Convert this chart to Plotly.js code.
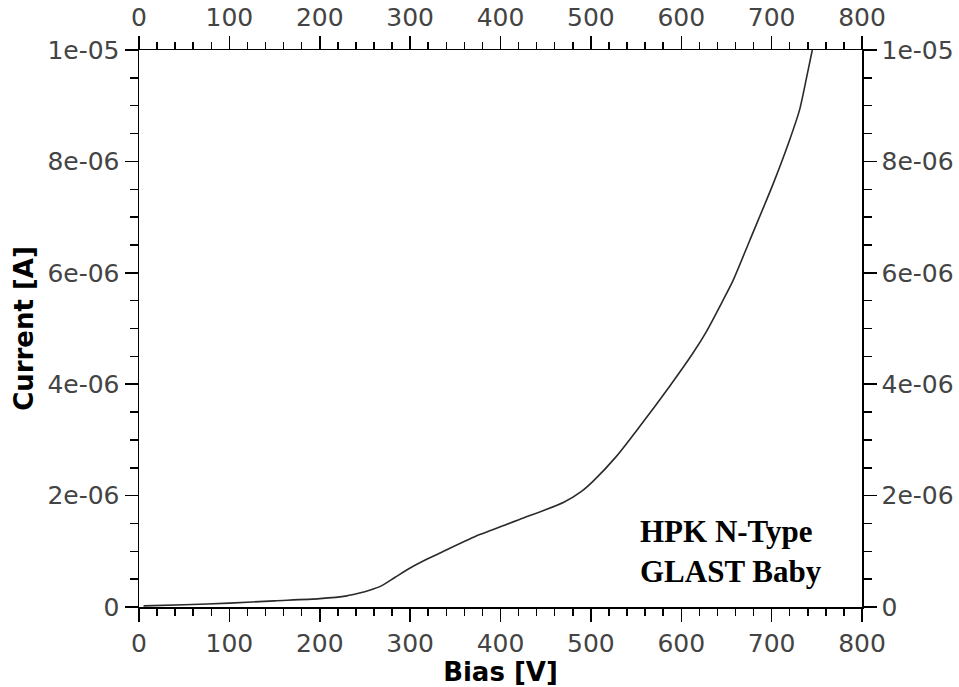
<!DOCTYPE html>
<html>
<head>
<meta charset="utf-8">
<script src="https://cdn.plot.ly/plotly-3.0.1.min.js"></script>
<style>html,body{margin:0;padding:0;background:#fff;}#chart{width:959px;height:687px;}</style>
</head>
<body>
<div id="chart"></div>
<script>
// Bias voltage [V]
const bias = [5, 50, 100, 150, 200, 230, 244, 255, 267, 283, 300, 320, 337, 377, 421, 470, 490, 502, 528, 554, 587, 613, 628, 646, 657, 676, 702, 720, 731, 739, 745];
// Leakage current [A]
const current = [0.02e-6, 0.04e-6, 0.07e-6, 0.11e-6, 0.15e-6, 0.20e-6, 0.25e-6, 0.30e-6, 0.37e-6, 0.53e-6, 0.70e-6, 0.87e-6, 1.00e-6, 1.30e-6, 1.57e-6, 1.88e-6, 2.08e-6, 2.25e-6, 2.70e-6, 3.24e-6, 3.96e-6, 4.56e-6, 4.95e-6, 5.50e-6, 5.85e-6, 6.59e-6, 7.61e-6, 8.39e-6, 8.93e-6, 9.53e-6, 10.0e-6];

const xTickVals = [0, 100, 200, 300, 400, 500, 600, 700, 800];
const yTickVals = [0, 2e-6, 4e-6, 6e-6, 8e-6, 1e-5];
const yTickText = ["0", "2e-06", "4e-06", "6e-06", "8e-06", "1e-05"];
const xTitle = "Bias [V]";
const yTitle = "Current [A]";
const label = "HPK N-Type<br>GLAST Baby";

const tickFont = {family: "DejaVu Sans", size: 25, color: "#444"};
const titleFont = {family: "DejaVu Sans", size: 26, color: "#000", weight: "bold"};

const common = {
  showline: true, linecolor: "#000", linewidth: 1.5,
  ticks: "outside", ticklen: 13, tickwidth: 1.5, tickcolor: "#000",
  showgrid: false, zeroline: false, tickfont: tickFont
};

const xBase = Object.assign({}, common, {
  range: [0, 800], tickmode: "array", tickvals: xTickVals,
  minor: {dtick: 20, ticks: "outside", ticklen: 7, tickwidth: 1.5, tickcolor: "#000", showgrid: false}
});
const yBase = Object.assign({}, common, {
  range: [0, 1e-5], tickmode: "array", tickvals: yTickVals, ticktext: yTickText,
  minor: {dtick: 0.5e-6, ticks: "outside", ticklen: 8, tickwidth: 1.5, tickcolor: "#000", showgrid: false}
});

const data = [
  {x: bias, y: current, type: "scatter", mode: "lines", line: {color: "#2a2a2a", width: 1.6, shape: "spline", smoothing: 0.7}, hoverinfo: "skip", showlegend: false},
  {x: bias, y: current, type: "scatter", mode: "lines", xaxis: "x2", yaxis: "y2", line: {color: "rgba(0,0,0,0)", width: 0}, hoverinfo: "skip", showlegend: false}
];

const layout = {
  width: 959, height: 687,
  margin: {l: 139, r: 97, t: 50, b: 80},
  paper_bgcolor: "#fff", plot_bgcolor: "#fff",
  showlegend: false,
  xaxis: Object.assign({}, xBase, {title: {text: xTitle, font: titleFont, standoff: 2}}),
  yaxis: Object.assign({}, yBase, {title: {text: yTitle, font: titleFont, standoff: 6}}),
  xaxis2: Object.assign({}, xBase, {overlaying: "x", side: "top", anchor: "y2"}),
  yaxis2: Object.assign({}, yBase, {overlaying: "y", side: "right", anchor: "x2"}),
  annotations: [{
    text: label, xref: "paper", yref: "paper", x: 0.6905, y: 0.099,
    xanchor: "left", yanchor: "middle", align: "left", showarrow: false,
    font: {family: "Liberation Serif", size: 31, color: "#000", weight: "bold"}
  }]
};

Plotly.newPlot("chart", data, layout, {displayModeBar: false, staticPlot: true});
</script>
</body>
</html>
